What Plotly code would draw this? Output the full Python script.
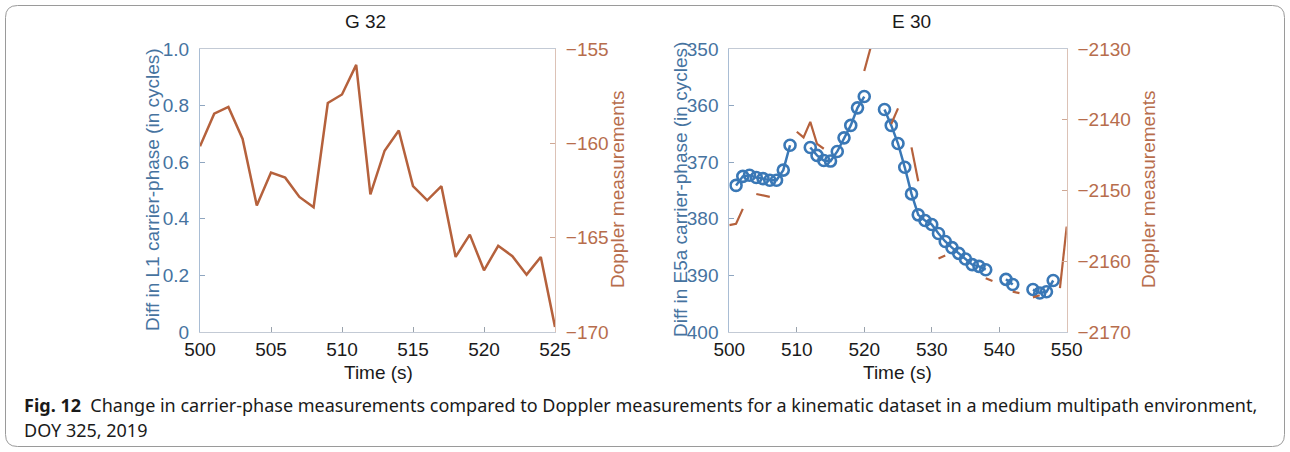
import plotly.graph_objects as go

W, H = 1290, 452

# ---------------- data ----------------
# G 32: Doppler measurements, one sample per second
g32_time = list(range(500, 526))
g32_doppler = [-160.16, -158.43, -158.07, -159.77, -163.30, -161.55, -161.82,
               -162.84, -163.39, -157.86, -157.41, -155.84, -162.71, -160.39,
               -159.32, -162.27, -163.02, -162.27, -166.02, -164.84, -166.73,
               -165.43, -165.98, -166.96, -166.02, -169.73]

# E 30: one sample per second, None = no measurement
e30_time = list(range(500, 551))
e30_phase = [None, 374.1, 372.5, 372.3, 372.7, 372.9, 373.2, 373.2, 371.4, 367.0,
             None, None, 367.4, 368.8, 369.7, 369.8, 368.1, 365.7, 363.5, 360.4,
             358.4, None, None, 360.7, 363.5, 366.7, 370.9, 375.6, 379.3, 380.3,
             381.0, 382.6, 384.0, 385.1, 386.1, 387.1, 388.1, 388.4, 389.0, None,
             None, 390.7, 391.6, None, None, 392.5, 393.1, 392.9, 390.9, None,
             None]
e30_doppler = [-2154.9, -2154.7, -2152.6, None, -2150.5, -2150.7, -2150.9, None, None, None,
               -2141.7, -2142.5, -2140.3, -2143.4, -2144.1, None, None, None, None, None,
               -2133.1, -2129.6, None, None, -2140.6, -2138.4, None, -2143.9, -2148.7, None,
               None, -2159.6, -2159.2, None, None, None, None, None, -2162.4, -2162.8,
               None, None, -2164.3, -2164.5, None, -2165.1, -2164.8, None, None, -2163.8,
               -2155.1]

g32_ticks_x = [500, 505, 510, 515, 520, 525]
g32_ticks_left = [0, 0.2, 0.4, 0.6, 0.8, 1.0]
g32_ticks_left_text = ["0", "0.2", "0.4", "0.6", "0.8", "1.0"]
g32_ticks_right = [-170, -165, -160, -155]
e30_ticks_x = [500, 510, 520, 530, 540, 550]
e30_ticks_left = [350, 360, 370, 380, 390, 400]
e30_ticks_right = [-2170, -2160, -2150, -2140, -2130]


def minus(v):
    return f"{v}".replace("-", "\u2212")


# ---------------- style ----------------
BLUE = "#3a78b6"
BLUE_TXT = "#46739f"
ORANGE = "#b5613c"
ORANGE_TXT = "#b76d4c"
FONT = "Liberation Sans, Arial, sans-serif"


def px(x):
    return x / W


def py(y):
    return 1 - y / H


fig = go.Figure()

# left panel
fig.add_trace(go.Scatter(x=[], y=[], xaxis="x", yaxis="y", showlegend=False,
                         line=dict(color=BLUE)))
fig.add_trace(go.Scatter(x=g32_time, y=g32_doppler, xaxis="x", yaxis="y2",
                         mode="lines", showlegend=False,
                         line=dict(color=ORANGE, width=2.5)))
# right panel
fig.add_trace(go.Scatter(x=e30_time, y=e30_phase, xaxis="x2", yaxis="y3",
                         mode="lines+markers", showlegend=False, connectgaps=False,
                         line=dict(color=BLUE, width=2.5),
                         marker=dict(symbol="circle-open", size=11, color=BLUE,
                                     line=dict(width=2.6, color=BLUE))))
fig.add_trace(go.Scatter(x=e30_time, y=e30_doppler, xaxis="x2", yaxis="y4",
                         mode="lines", showlegend=False, connectgaps=False,
                         line=dict(color=ORANGE, width=2.2)))

ydom = [py(332), py(49)]
xaxis_common = dict(showline=True, linecolor="#c3cad5", linewidth=1, mirror=True,
                    ticks="inside", ticklen=5, tickcolor="#9aa3ad", showgrid=False,
                    zeroline=False, tickfont=dict(family=FONT, size=19, color="#1a1a1a"))
yl_common = dict(showline=True, linecolor="#a9bdd4", linewidth=1, ticks="inside",
                 ticklen=5, tickcolor="#8fa6c0", showgrid=False, zeroline=False,
                 tickfont=dict(family=FONT, size=19, color=BLUE_TXT),
                 ticklabelstandoff=6)
yr_common = dict(showline=True, linecolor="#dcc2b6", linewidth=1, ticks="inside",
                 ticklen=5, tickcolor="#cfa894", showgrid=False, zeroline=False,
                 side="right", tickfont=dict(family=FONT, size=19, color=ORANGE_TXT),
                 ticklabelstandoff=6)

fig.update_layout(
    width=W, height=H,
    margin=dict(l=0, r=0, t=0, b=0, autoexpand=False),
    paper_bgcolor="white", plot_bgcolor="white",
    xaxis=dict(domain=[px(200), px(555)], range=[500, 525], anchor="y",
               tickvals=g32_ticks_x, **xaxis_common),
    yaxis=dict(domain=ydom, range=[0, 1], anchor="x",
               tickvals=g32_ticks_left, ticktext=g32_ticks_left_text, **yl_common),
    yaxis2=dict(range=[-170, -155], overlaying="y", anchor="x",
                tickvals=g32_ticks_right,
                ticktext=[minus(v) for v in g32_ticks_right], **yr_common),
    xaxis2=dict(domain=[px(729.3), px(1066.7)], range=[500, 550], anchor="y3",
                tickvals=e30_ticks_x, **xaxis_common),
    yaxis3=dict(domain=ydom, range=[400, 350], anchor="x2",
                tickvals=e30_ticks_left, **yl_common),
    yaxis4=dict(range=[-2170, -2130], overlaying="y3", anchor="x2",
                tickvals=e30_ticks_right,
                ticktext=[minus(v) for v in e30_ticks_right], **yr_common),
)


def label(text, x, y, size=19, color="#1a1a1a", angle=0, xanchor="center", family=FONT):
    fig.add_annotation(text=text, x=px(x), y=py(y), xref="paper", yref="paper",
                       showarrow=False, textangle=angle, xanchor=xanchor,
                       yanchor="middle", font=dict(family=family, size=size, color=color))


# panel titles
label("G 32", 365, 22, size=19)
label("E 30", 911, 22, size=19)
# axis titles
label("Time (s)", 378, 372)
label("Time (s)", 898, 372)
label("Diff in L1 carrier-phase (in cycles)", 152, 190, color=BLUE_TXT, angle=-90)
label("Doppler measurements", 617, 190, color=ORANGE_TXT, angle=-90)
label("Diff in E5a carrier-phase (in cycles)", 680, 190, color=BLUE_TXT, angle=-90)
label("Doppler measurements", 1148, 190, color=ORANGE_TXT, angle=-90)

# caption
CAP_FONT = "Noto Sans, sans-serif"
label("<b>Fig. 12</b>  Change in carrier-phase measurements compared to Doppler "
      "measurements for a kinematic dataset in a medium multipath environment,",
      22, 405, size=18, xanchor="left", family=CAP_FONT)
label("DOY 325, 2019", 22, 430, size=18, xanchor="left", family=CAP_FONT)

# rounded frame around the figure
x0, y0, x1, y1, r = px(5.5), py(5.5), px(1284.5), py(446.5), 12
rx, ry = r / W, r / H
path = (f"M {x0 + rx},{y0} L {x1 - rx},{y0} Q {x1},{y0} {x1},{y0 - ry} "
        f"L {x1},{y1 + ry} Q {x1},{y1} {x1 - rx},{y1} "
        f"L {x0 + rx},{y1} Q {x0},{y1} {x0},{y1 + ry} "
        f"L {x0},{y0 - ry} Q {x0},{y0} {x0 + rx},{y0} Z")
fig.add_shape(type="path", path=path, xref="paper", yref="paper",
              line=dict(color="#9a9a9a", width=1))

fig.write_html("out.html")
